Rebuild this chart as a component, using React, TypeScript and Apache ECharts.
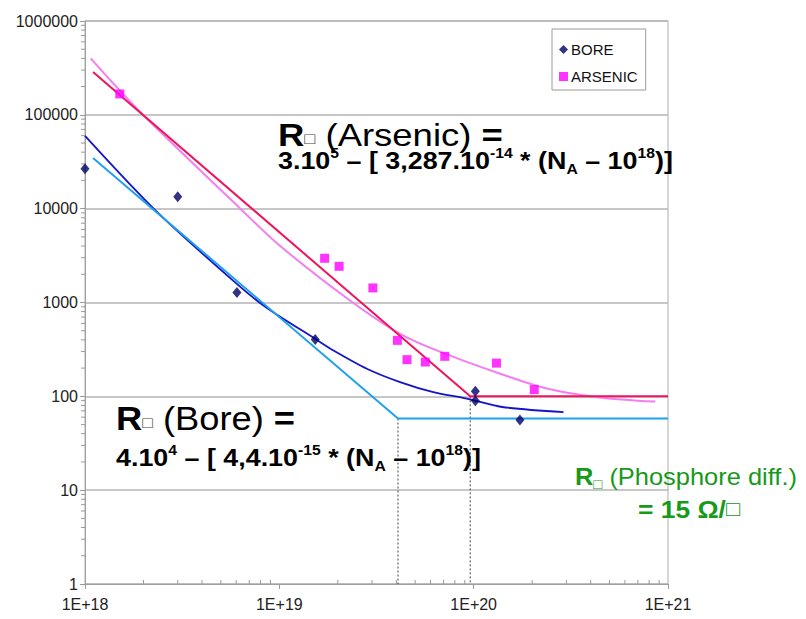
import React, { useEffect, useRef } from 'react';
import * as echarts from 'echarts';

// Measured points
const boreX = [1e18, 3.0e18, 6.05e18, 1.53e19, 1.02e20, 1.02e20, 1.73e20];
const boreY = [26700, 13400, 1280, 404, 113, 90, 56];
const arsenicX = [1.51e18, 1.71e19, 2.03e19, 3.03e19, 4.05e19, 4.54e19, 5.64e19, 7.1e19, 1.31e20, 2.05e20];
const arsenicY = [167000, 2960, 2430, 1430, 395, 246, 232, 267, 226, 118];

// Piecewise model lines
const arsenicModelX = [1.1e18, 9.6e19, 1e21];
const arsenicModelY = [2.86e5, 100, 100];
const boreModelX = [1.1e18, 4.08e19, 1e21];
const boreModelY = [34600, 58, 58];

// Trend curves
const boreTrendX = [1e18, 2.34e18, 6.0e18, 8.6e18, 1.53e19, 1.9e19, 2.82e19, 4.18e19, 6.2e19, 9.2e19, 1.4e20, 2.9e20];
const boreTrendY = [59800, 9300, 1600, 880, 410, 308, 197, 142, 111, 94.6, 77, 68];
const arsenicTrendX = [1.07e18, 1.48e18, 2.04e18, 6.3e18, 1.01e19, 2.31e19, 4.18e19, 7.13e19, 1.37e20, 2.38e20, 4.3e20, 8.6e20];
const arsenicTrendY = [4.0e5, 1.9e5, 9.5e4, 1.0e4, 4000, 1050, 464, 285, 174, 121, 98, 88];

// Drop lines
const dropX = [4.08e19, 9.6e19];
const dropTop = [58, 100];

// Axis ticks
const minorMultipliers = [2, 3, 4, 5, 6, 7, 8, 9];
const xDecades = [1e18, 1e19, 1e20];
const yDecades = [1, 10, 100, 1000, 10000, 100000];

const FONT = "'Liberation Sans', Arial, sans-serif";

const zip = (xs: number[], ys: number[]) => xs.map((x, i) => [x, ys[i]]);

export default function App() {
  const ref = useRef<HTMLDivElement>(null);
  useEffect(() => {
    if (!ref.current) return;
    const chart = echarts.init(ref.current, null, { renderer: 'svg' });

    const xMinor = xDecades.flatMap((d) => minorMultipliers.map((m) => [m * d, 1]));
    const yMinor = yDecades.flatMap((d) => minorMultipliers.map((m) => [1e18, m * d]));

    const tickSeries = (data: number[][], vertical: boolean) => ({
      type: 'custom',
      silent: true,
      clip: false,
      z: 1,
      data,
      encode: { x: 0, y: 1 },
      renderItem: (params: any, api: any) => {
        const p = api.coord([api.value(0), api.value(1)]);
        return {
          type: 'line',
          shape: vertical
            ? { x1: p[0], y1: p[1] + 1, x2: p[0], y2: p[1] - 4 }
            : { x1: p[0] - 4, y1: p[1], x2: p[0] + 1, y2: p[1] },
          style: { stroke: '#9a9a9a', lineWidth: 1 },
        };
      },
    });

    const b = { fontFamily: FONT, fontWeight: 'bold' };
    const n = { fontFamily: FONT, fontWeight: 'normal' };

    const formulaRich = {
      f: { ...b, fontSize: 24, lineHeight: 30 },
      s: { ...b, fontSize: 14, lineHeight: 8, verticalAlign: 'top' },
      a: { ...b, fontSize: 14, lineHeight: 8, verticalAlign: 'bottom' },
    };

    const option: any = {
      animation: false,
      backgroundColor: '#ffffff',
      grid: { left: 85, right: 138, top: 21, bottom: 35, show: true, borderColor: '#adadad', borderWidth: 1 },
      xAxis: {
        type: 'log',
        logBase: 10,
        min: 1e18,
        max: 1e21,
        splitNumber: 3,
        axisLine: { show: true, lineStyle: { color: '#a0a0a0', width: 1 } },
        axisTick: { show: true, length: 5, lineStyle: { color: '#9a9a9a' } },
        splitLine: { show: false },
        axisLabel: {
          margin: 12,
          fontSize: 16,
          fontFamily: FONT,
          color: '#222',
          formatter: (v: number) => '1E+' + Math.round(Math.log10(v)),
        },
      },
      yAxis: {
        type: 'log',
        logBase: 10,
        min: 1,
        max: 1e6,
        splitNumber: 6,
        axisLine: { show: true, lineStyle: { color: '#a0a0a0', width: 1 } },
        axisTick: { show: true, length: 5, lineStyle: { color: '#9a9a9a' } },
        splitLine: { show: true, lineStyle: { color: '#b4b4b4', width: 1.5 } },
        axisLabel: {
          margin: 7,
          fontSize: 16,
          fontFamily: FONT,
          color: '#222',
          formatter: (v: number) => String(Math.round(v)),
        },
      },
      legend: {
        data: [
          { name: 'BORE', icon: 'diamond' },
          { name: 'ARSENIC', icon: 'rect' },
        ],
        orient: 'vertical',
        left: 552,
        top: 29,
        padding: [13, 8, 6, 7],
        itemGap: 12,
        itemWidth: 9,
        itemHeight: 9,
        borderColor: '#9a9a9a',
        borderWidth: 1,
        backgroundColor: '#fff',
        textStyle: { fontSize: 15, lineHeight: 15, fontFamily: FONT, color: '#111', padding: [0, 0, 0, -2] },
      },
      series: [
        tickSeries(xMinor, true),
        tickSeries(yMinor, false),
        ...dropX.map((x, i) => ({
          type: 'line',
          name: 'drop' + i,
          data: [[x, dropTop[i]], [x, 1]],
          symbol: 'none',
          silent: true,
          z: 2,
          lineStyle: { color: '#444', width: 1, type: [2, 2] },
        })),
        {
          type: 'line',
          name: 'arsenicTrend',
          data: zip(arsenicTrendX, arsenicTrendY),
          smooth: 0.35,
          symbol: 'none',
          z: 3,
          lineStyle: { color: '#f47ef0', width: 2 },
        },
        {
          type: 'line',
          name: 'boreTrend',
          data: zip(boreTrendX, boreTrendY),
          smooth: 0.3,
          symbol: 'none',
          z: 3,
          lineStyle: { color: '#1414c8', width: 1.8 },
        },
        {
          type: 'line',
          name: 'boreModel',
          data: zip(boreModelX, boreModelY),
          symbol: 'none',
          z: 4,
          lineStyle: { color: '#1ea0ec', width: 2 },
        },
        {
          type: 'line',
          name: 'arsenicModel',
          data: zip(arsenicModelX, arsenicModelY),
          symbol: 'none',
          z: 4,
          lineStyle: { color: '#f0145c', width: 2 },
        },
        {
          type: 'scatter',
          name: 'BORE',
          data: zip(boreX, boreY),
          symbol: 'diamond',
          symbolSize: [9, 11],
          z: 6,
          itemStyle: { color: '#000066' },
        },
        {
          type: 'scatter',
          name: 'ARSENIC',
          data: zip(arsenicX, arsenicY),
          symbol: 'rect',
          symbolSize: 9,
          z: 5,
          itemStyle: { color: '#ff00ff' },
        },
      ],
      graphic: [
        {
          type: 'text',
          x: 278,
          y: 124,
          scaleX: 1.14,
          z: 100,
          style: {
            text: '{b|R}{box|□}{n| (Arsenic) }{b|=}',
            fill: '#000',
            rich: {
              b: { ...b, fontSize: 32, lineHeight: 22 },
              n: { ...n, fontSize: 32, lineHeight: 22 },
              box: { ...n, fontSize: 16, lineHeight: 10, verticalAlign: 'bottom', fill: '#444' },
            },
          },
        },
        {
          type: 'text',
          x: 278,
          y: 146,
          scaleX: 1.12,
          z: 100,
          style: {
            text: '{f|3.10}{s|5}{f| – [ 3,287.10}{s|-14}{f| * (N}{a|A}{f| – 10}{s|18}{f|)]}',
            fill: '#000',
            rich: formulaRich,
          },
        },
        {
          type: 'text',
          x: 116,
          y: 407,
          scaleX: 1.1,
          z: 100,
          style: {
            text: '{b|R}{box|□}{n| (Bore) }{b|=}',
            fill: '#000',
            rich: {
              b: { ...b, fontSize: 33, lineHeight: 24 },
              n: { ...n, fontSize: 33, lineHeight: 24 },
              box: { ...n, fontSize: 16, lineHeight: 10, verticalAlign: 'bottom', fill: '#444' },
            },
          },
        },
        {
          type: 'text',
          x: 116,
          y: 443,
          scaleX: 1.12,
          z: 100,
          style: {
            text: '{f|4.10}{s|4}{f| – [ 4,4.10}{s|-15}{f| * (N}{a|A}{f| – 10}{s|18}{f|)]}',
            fill: '#000',
            rich: formulaRich,
          },
        },
        {
          type: 'text',
          x: 575,
          y: 463,
          scaleX: 1.06,
          z: 100,
          style: {
            text: '{b|R}{box|□}{n| (Phosphore diff.)}',
            fill: '#17991a',
            rich: {
              b: { ...b, fontSize: 24, lineHeight: 28 },
              n: { ...n, fontSize: 24, lineHeight: 28 },
              box: { ...n, fontSize: 14, lineHeight: 12, verticalAlign: 'bottom' },
            },
          },
        },
        {
          type: 'text',
          x: 638,
          y: 495,
          scaleX: 1.1,
          z: 100,
          style: {
            text: '{b|= 15 Ω/}{n|□}',
            fill: '#17991a',
            rich: {
              b: { ...b, fontSize: 24, lineHeight: 28 },
              n: { ...n, fontSize: 21, lineHeight: 28 },
            },
          },
        },
      ],
    };

    chart.setOption(option);
    return () => chart.dispose();
  }, []);

  return (
    <div
      ref={ref}
      style={{ position: 'fixed', left: 0, top: 0, width: 806, height: 619, background: '#fff' }}
    />
  );
}
